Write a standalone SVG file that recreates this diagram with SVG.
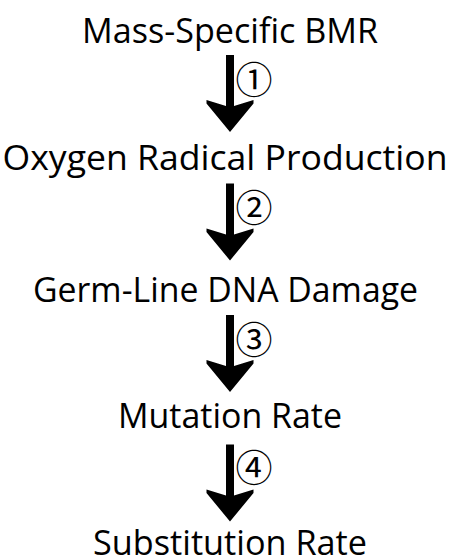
<svg xmlns="http://www.w3.org/2000/svg" xmlns:xlink="http://www.w3.org/1999/xlink" width="449" height="559" viewBox="0 0 449 559">
<style>
.lbl{font-family:"Open Sans","Noto Sans","Liberation Sans",sans-serif;font-size:34px;fill:#000;text-anchor:middle}
.num{font-family:"Noto Sans CJK JP","DejaVu Sans",sans-serif;font-size:37px;fill:#000;text-anchor:middle}
</style>
<defs>
<polygon id="arrow" points="-4,0 4,0 4,51 23.5,45 23.5,48.5 0,77 -23.5,48.5 -23.5,45 -4,51" fill="#000"/>
</defs>
<rect width="449" height="559" fill="#fff"/>
<g id="connectors">
<use xlink:href="#arrow" href="#arrow" x="230" y="55"/>
<use xlink:href="#arrow" href="#arrow" x="230" y="183.5"/>
<use xlink:href="#arrow" href="#arrow" x="230" y="315"/>
<use xlink:href="#arrow" href="#arrow" x="230" y="444.5"/>
<text class="num" x="254" y="93.5">①</text>
<text class="num" x="254" y="221.5">②</text>
<text class="num" x="254" y="353.5">③</text>
<text class="num" x="254" y="481.5">④</text>
</g>
<g id="n1"><text class="lbl" x="230" y="43" textLength="296" lengthAdjust="spacingAndGlyphs">Mass-Specific BMR</text></g>
<g id="n2"><text class="lbl" x="225" y="169.5" textLength="445" lengthAdjust="spacingAndGlyphs">Oxygen Radical Production</text></g>
<g id="n3"><text class="lbl" x="225.5" y="301.5" textLength="385" lengthAdjust="spacingAndGlyphs">Germ-Line DNA Damage</text></g>
<g id="n4"><text class="lbl" x="230" y="428" textLength="224" lengthAdjust="spacingAndGlyphs">Mutation Rate</text></g>
<g id="n5"><text class="lbl" x="230" y="555" textLength="274" lengthAdjust="spacingAndGlyphs">Substitution Rate</text></g>
</svg>
